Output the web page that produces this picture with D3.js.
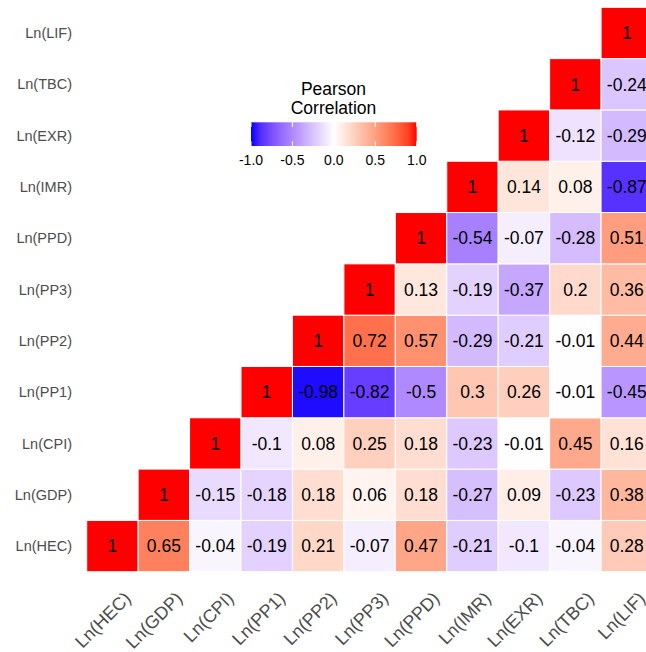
<!DOCTYPE html>
<html>
<head>
<meta charset="utf-8">
<script src="https://cdn.jsdelivr.net/npm/d3@7"></script>
<style>
  body { margin: 0; background: #fff; }
  svg { display: block; font-family: "Liberation Sans", Arial, sans-serif; }
</style>
</head>
<body>
<svg></svg>
<script>
// variables, bottom row first
const vars = ["HEC", "GDP", "CPI", "PP1", "PP2", "PP3", "PPD", "IMR", "EXR", "TBC", "LIF"];

// upper triangle, one row per variable: values from its own column to LIF
const rowHEC = [1, 0.65, -0.04, -0.19, 0.21, -0.07, 0.47, -0.21, -0.1, -0.04, 0.28];
const rowGDP = [1, -0.15, -0.18, 0.18, 0.06, 0.18, -0.27, 0.09, -0.23, 0.38];
const rowCPI = [1, -0.1, 0.08, 0.25, 0.18, -0.23, -0.01, 0.45, 0.16];
const rowPP1 = [1, -0.98, -0.82, -0.5, 0.3, 0.26, -0.01, -0.45];
const rowPP2 = [1, 0.72, 0.57, -0.29, -0.21, -0.01, 0.44];
const rowPP3 = [1, 0.13, -0.19, -0.37, 0.2, 0.36];
const rowPPD = [1, -0.54, -0.07, -0.28, 0.51];
const rowIMR = [1, 0.14, 0.08, -0.87];
const rowEXR = [1, -0.12, -0.29];
const rowTBC = [1, -0.24];
const rowLIF = [1];

const legendTicks = [-1, -0.5, 0, 0.5, 1];

const rows = [rowHEC, rowGDP, rowCPI, rowPP1, rowPP2, rowPP3, rowPPD, rowIMR, rowEXR, rowTBC, rowLIF];
const cells = [];
rows.forEach((r, i) => {
  r.forEach((v, k) => {
    cells.push({ row: vars[i], col: vars[i + k], value: v });
  });
});

const svg = d3.select("svg")
    .attr("width", 646)
    .attr("height", 652);

const x = d3.scaleBand()
    .domain(vars)
    .range([86.7, 652.5]);

const y = d3.scaleBand()
    .domain(vars)
    .range([571.7, 7.3]);

// blue - white - red, like ggplot's gradient2
const color = d3.scaleLinear()
    .domain([-1, 0, 1])
    .range(["#0000ff", "#ffffff", "#ff0000"])
    .interpolate(d3.interpolateLab);

const fmt = (d) => d === 1 ? "1" : String(d);

const cellG = svg.append("g");

cellG.selectAll("rect")
    .data(cells)
    .join("rect")
    .attr("x", (d) => x(d.col))
    .attr("y", (d) => y(d.row))
    .attr("width", x.bandwidth())
    .attr("height", y.bandwidth())
    .attr("fill", (d) => color(d.value))
    .attr("stroke", "#ffffff")
    .attr("stroke-width", 1);

cellG.selectAll("text")
    .data(cells)
    .join("text")
    .attr("x", (d) => x(d.col) + x.bandwidth() / 2)
    .attr("y", (d) => y(d.row) + y.bandwidth() / 2)
    .attr("dy", "0.36em")
    .attr("text-anchor", "middle")
    .attr("font-size", 17.5)
    .attr("fill", "#000")
    .text((d) => fmt(d.value));

// y axis labels
svg.append("g")
    .selectAll("text")
    .data(vars)
    .join("text")
    .attr("x", 72)
    .attr("y", (d) => y(d) + y.bandwidth() / 2)
    .attr("dy", "0.35em")
    .attr("text-anchor", "end")
    .attr("font-size", 14.5)
    .attr("fill", "#4d4d4d")
    .text((d) => `Ln(${d})`);

// x axis labels, rotated 45 degrees
svg.append("g")
    .selectAll("text")
    .data(vars)
    .join("text")
    .attr("transform", (d) => `translate(${x(d) + x.bandwidth() / 2 + 10}, 590) rotate(-45)`)
    .attr("dy", "0.75em")
    .attr("text-anchor", "end")
    .attr("font-size", 18)
    .attr("fill", "#4d4d4d")
    .text((d) => `Ln(${d})`);

// legend
const lx = d3.scaleLinear()
    .domain([-1, 1])
    .range([251, 416.7]);

const grad = svg.append("defs")
    .append("linearGradient")
    .attr("id", "grad");

d3.range(0, 1.0001, 0.05).forEach((t) => {
  grad.append("stop")
      .attr("offset", t)
      .attr("stop-color", color(-1 + 2 * t));
});

const legend = svg.append("g");

legend.append("text")
    .attr("x", 333.5)
    .attr("y", 95)
    .attr("text-anchor", "middle")
    .attr("font-size", 17.5)
    .attr("fill", "#000")
    .selectAll("tspan")
    .data(["Pearson", "Correlation"])
    .join("tspan")
    .attr("x", 333.5)
    .attr("dy", (d, i) => i === 0 ? 0 : 19)
    .text((d) => d);

legend.append("rect")
    .attr("x", lx(-1))
    .attr("y", 122.3)
    .attr("width", lx(1) - lx(-1))
    .attr("height", 23.7)
    .attr("fill", "url(#grad)");

legend.selectAll("line.top")
    .data(legendTicks)
    .join("line")
    .attr("class", "top")
    .attr("x1", (d) => lx(d))
    .attr("x2", (d) => lx(d))
    .attr("y1", 122.3)
    .attr("y2", 127)
    .attr("stroke", "#fff");

legend.selectAll("line.bottom")
    .data(legendTicks)
    .join("line")
    .attr("class", "bottom")
    .attr("x1", (d) => lx(d))
    .attr("x2", (d) => lx(d))
    .attr("y1", 141.3)
    .attr("y2", 146)
    .attr("stroke", "#fff");

legend.selectAll("text.tick")
    .data(legendTicks)
    .join("text")
    .attr("class", "tick")
    .attr("x", (d) => lx(d))
    .attr("y", 165)
    .attr("text-anchor", "middle")
    .attr("font-size", 14)
    .attr("fill", "#000")
    .text((d) => d3.format(".1f")(d).replace("−", "-"));
</script>
</body>
</html>
